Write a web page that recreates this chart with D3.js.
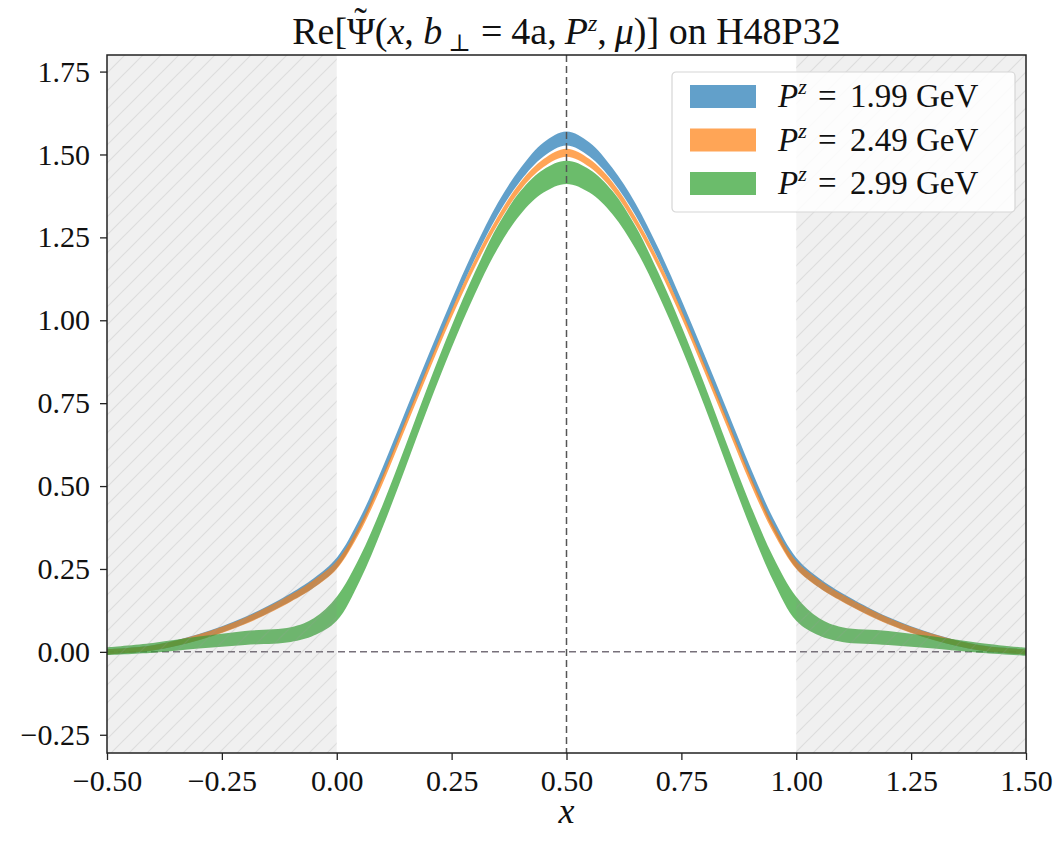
<!DOCTYPE html>
<html>
<head>
<meta charset="utf-8">
<script src="https://cdn.jsdelivr.net/npm/d3@7"></script>
<style>
  body { margin: 0; background: #fff; }
  text { font-family: "Liberation Serif", "DejaVu Serif", serif; fill: #111; }
</style>
</head>
<body>
<svg id="chart" width="1059" height="841"></svg>
<script>
// x grid of the bands
var xs = [-0.5, -0.4, -0.3, -0.2, -0.1, -0.05, 0, 0.05, 0.1, 0.15, 0.2, 0.25, 0.3, 0.35, 0.4, 0.45, 0.5,
          0.55, 0.6, 0.65, 0.7, 0.75, 0.8, 0.85, 0.9, 0.95, 1.0, 1.05, 1.1, 1.2, 1.3, 1.4, 1.5];

// Pz = 1.99 GeV : central value and half width
var mid199 = [0.000, 0.012, 0.045, 0.095, 0.165, 0.208, 0.268, 0.385, 0.540, 0.710, 0.880, 1.045, 1.200, 1.335, 1.440, 1.515, 1.548,
              1.515, 1.440, 1.335, 1.200, 1.045, 0.880, 0.710, 0.540, 0.385, 0.268, 0.208, 0.165, 0.095, 0.045, 0.012, 0.000];
var err199 = [0.008, 0.008, 0.009, 0.010, 0.012, 0.014, 0.016, 0.017, 0.017, 0.017, 0.017, 0.017, 0.017, 0.018, 0.019, 0.021, 0.021,
              0.021, 0.019, 0.018, 0.017, 0.017, 0.017, 0.017, 0.017, 0.017, 0.016, 0.014, 0.012, 0.010, 0.009, 0.008, 0.008];

// Pz = 2.49 GeV
var mid249 = [0.000, 0.012, 0.044, 0.093, 0.162, 0.205, 0.262, 0.372, 0.520, 0.688, 0.857, 1.020, 1.170, 1.300, 1.405, 1.474, 1.505,
              1.474, 1.405, 1.300, 1.170, 1.020, 0.857, 0.688, 0.520, 0.372, 0.262, 0.205, 0.162, 0.093, 0.044, 0.012, 0.000];
var err249 = [0.008, 0.008, 0.009, 0.010, 0.011, 0.012, 0.012, 0.012, 0.012, 0.012, 0.012, 0.012, 0.012, 0.012, 0.012, 0.012, 0.012,
              0.012, 0.012, 0.012, 0.012, 0.012, 0.012, 0.012, 0.012, 0.012, 0.012, 0.012, 0.011, 0.010, 0.009, 0.008, 0.008];

// Pz = 2.99 GeV
var mid299 = [0.002, 0.012, 0.028, 0.042, 0.052, 0.075, 0.130, 0.250, 0.410, 0.590, 0.775, 0.950, 1.110, 1.250, 1.355, 1.420, 1.446,
              1.420, 1.355, 1.250, 1.110, 0.950, 0.775, 0.590, 0.410, 0.250, 0.130, 0.075, 0.052, 0.042, 0.028, 0.012, 0.000];
var err299 = [0.012, 0.015, 0.018, 0.021, 0.022, 0.026, 0.036, 0.036, 0.034, 0.033, 0.033, 0.033, 0.033, 0.034, 0.035, 0.035, 0.035,
              0.035, 0.035, 0.034, 0.033, 0.033, 0.033, 0.033, 0.034, 0.036, 0.036, 0.026, 0.022, 0.021, 0.018, 0.015, 0.012];

var seriesLabels = ["1.99", "2.49", "2.99"];
var seriesColors = ["#1f77b4", "#ff7f0e", "#2ca02c"];
var xTicks = [-0.5, -0.25, 0, 0.25, 0.5, 0.75, 1.0, 1.25, 1.5];
var yTicks = [-0.25, 0, 0.25, 0.5, 0.75, 1.0, 1.25, 1.5, 1.75];

var margin = {top: 55, right: 33, bottom: 88, left: 107},
    W = 1059, H = 841,
    width = W - margin.left - margin.right,
    height = H - margin.top - margin.bottom;

var svg = d3.select("#chart");
var defs = svg.append("defs");

defs.append("clipPath").attr("id", "clip")
  .append("rect").attr("width", width).attr("height", height);

var hatch = defs.append("pattern")
    .attr("id", "hatch")
    .attr("patternUnits", "userSpaceOnUse")
    .attr("width", 18).attr("height", 18);
hatch.append("path")
    .attr("d", "M-2,2 L2,-2 M0,18 L18,0 M16,20 L20,16")
    .attr("stroke", "#9a9a9a").attr("stroke-opacity", 0.22).attr("stroke-width", 1.2);

var g = svg.append("g").attr("transform", "translate(" + margin.left + "," + margin.top + ")");

var x = d3.scaleLinear().domain([-0.5, 1.5]).range([0, width]);
var y = d3.scaleLinear().domain([-0.305, 1.80]).range([height, 0]);

var plot = g.append("g").attr("clip-path", "url(#clip)");

// horizontal zero line (below bands)
plot.append("line")
    .attr("x1", 0).attr("x2", width)
    .attr("y1", y(0)).attr("y2", y(0))
    .attr("stroke", "#77707a").attr("stroke-width", 1.5)
    .attr("stroke-dasharray", "7,4");

var bands = [
  {mid: mid199, err: err199},
  {mid: mid249, err: err249},
  {mid: mid299, err: err299}
];

var area = d3.area()
    .curve(d3.curveCatmullRom.alpha(0.5))
    .x(function(d) { return x(d.x); })
    .y0(function(d) { return y(d.lo); })
    .y1(function(d) { return y(d.hi); });

bands.forEach(function(b, i) {
  var pts = xs.map(function(xv, k) {
    return {x: xv, lo: b.mid[k] - b.err[k], hi: b.mid[k] + b.err[k]};
  });
  plot.append("path")
      .datum(pts)
      .attr("d", area)
      .attr("fill", seriesColors[i])
      .attr("fill-opacity", 0.7);
});

// unphysical regions, shaded + hatched
[[-0.5, 0], [1.0, 1.5]].forEach(function(r) {
  plot.append("rect")
      .attr("x", x(r[0])).attr("y", 0)
      .attr("width", x(r[1]) - x(r[0])).attr("height", height)
      .attr("fill", "#808080").attr("fill-opacity", 0.12);
  plot.append("rect")
      .attr("x", x(r[0])).attr("y", 0)
      .attr("width", x(r[1]) - x(r[0])).attr("height", height)
      .attr("fill", "url(#hatch)");
});

// vertical line at x = 0.5
plot.append("line")
    .attr("x1", x(0.5)).attr("x2", x(0.5))
    .attr("y1", 0).attr("y2", height)
    .attr("stroke", "#555").attr("stroke-width", 1.5)
    .attr("stroke-dasharray", "7,4");

// axes
var fmt = function(d) { return d3.format(".2f")(d).replace("-", "\u2212"); };

var xAxis = g.append("g")
    .attr("transform", "translate(0," + height + ")")
    .call(d3.axisBottom(x).tickValues(xTicks).tickFormat(fmt).tickSize(7).tickPadding(10));
var yAxis = g.append("g")
    .call(d3.axisLeft(y).tickValues(yTicks).tickFormat(fmt).tickSize(7).tickPadding(10));

[xAxis, yAxis].forEach(function(a) {
  a.select(".domain").remove();
  a.selectAll("line").attr("stroke", "#222").attr("stroke-width", 1.3);
  a.selectAll("text")
      .attr("font-family", "Liberation Serif, serif")
      .attr("font-size", 30)
      .attr("fill", "#222");
});

// frame
g.append("rect")
    .attr("width", width).attr("height", height)
    .attr("fill", "none").attr("stroke", "#222").attr("stroke-width", 1.5);

// x label
g.append("text")
    .attr("x", x(0.5)).attr("y", height + 70)
    .attr("text-anchor", "middle")
    .attr("font-size", 36).attr("font-style", "italic")
    .text("x");

// title
var title = svg.append("text")
    .attr("x", margin.left + x(0.5)).attr("y", 44)
    .attr("text-anchor", "middle")
    .attr("font-size", 38);
title.append("tspan").text("Re[\u03A8");
title.append("tspan").attr("dx", -21).attr("dy", -10).text("\u02DC");
title.append("tspan").attr("dx", 8).attr("dy", 10).text("(");
title.append("tspan").attr("font-style", "italic").text("x");
title.append("tspan").text(", ");
title.append("tspan").attr("font-style", "italic").text("b");
title.append("tspan").attr("font-size", 24).attr("dx", 6).attr("dy", 7).text("\u22A5");
title.append("tspan").attr("dx", 10).attr("dy", -7).text("=");
title.append("tspan").attr("dx", 9).text("4a,");
title.append("tspan").attr("dx", 8).attr("font-style", "italic").text("P");
title.append("tspan").attr("font-style", "italic").attr("font-size", 24).attr("dy", -13).text("z");
title.append("tspan").attr("dy", 13).text(",");
title.append("tspan").attr("dx", 8).attr("font-style", "italic").text("\u03BC");
title.append("tspan").text(")] on H48P32");

// legend
var leg = svg.append("g").attr("transform", "translate(672,72)");
leg.append("rect")
    .attr("width", 343).attr("height", 140).attr("rx", 4)
    .attr("fill", "#fff").attr("fill-opacity", 0.85)
    .attr("stroke", "#d6d6d6").attr("stroke-width", 1.2);

seriesLabels.forEach(function(lab, i) {
  var row = leg.append("g").attr("transform", "translate(0," + (24 + i * 43.5) + ")");
  row.append("rect")
      .attr("x", 18).attr("y", -11).attr("width", 66).attr("height", 23)
      .attr("fill", seriesColors[i]).attr("fill-opacity", 0.7);
  var t = row.append("text").attr("y", 11).attr("font-size", 33);
  t.append("tspan").attr("x", 106).attr("font-style", "italic").text("P");
  t.append("tspan").attr("font-style", "italic").attr("font-size", 22).attr("dy", -13).text("z");
  t.append("tspan").attr("x", 146).attr("dy", 13).text("=");
  t.append("tspan").attr("x", 178).text(lab + " GeV");
});
</script>
</body>
</html>
